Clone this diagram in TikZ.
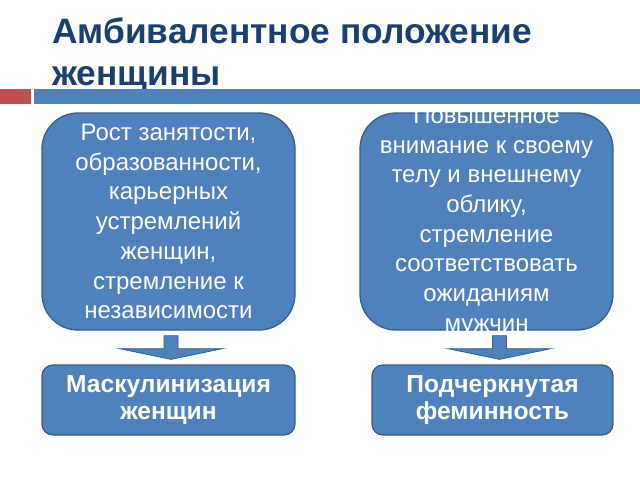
\documentclass[tikz,border=0pt]{standalone}
\usepackage{fontspec}
\setmainfont{Liberation Sans}
\usetikzlibrary{calc}
\definecolor{titleblue}{HTML}{1B4070}
\definecolor{boxfill}{HTML}{4F81BD}
\definecolor{boxline}{HTML}{385D8A}
\definecolor{barred}{HTML}{C0504D}
\tikzset{
  bigbox/.style={draw=boxline, line width=1.3pt, fill=boxfill, rounded corners=36pt,
    minimum width=253pt, minimum height=217pt, inner sep=0pt},
  bigtext/.style={inner sep=0pt, align=center,
    text=white, font=\fontsize{24}{29.7}\selectfont},
  resbox/.style={draw=boxline, line width=1.3pt, fill=boxfill, rounded corners=11pt,
    minimum height=70pt, inner sep=0pt, align=center,
    text=white, font=\bfseries\fontsize{24.6}{27}\selectfont},
  blockarrow/.style={draw=boxline, line width=0.8pt, fill=boxfill},
}
\begin{document}
\begin{tikzpicture}[x=1pt,y=-1pt]
\useasboundingbox (0,0) rectangle (640,480);
% title
\node[anchor=base west, inner sep=0pt, text=titleblue, align=left,
  font=\bfseries\fontsize{35.3}{42}\selectfont] (title) at (52,85)
  {Амбивалентное положение\\женщины};
% bars
\fill[barred] (0,89) rectangle (31,104);
\fill[boxfill] (34,89) rectangle (640,104);
% boxes
\node[bigbox] (t1) at (168.5,221.5) {};
\node[bigtext] (t1text) at (t1.center) {Рост занятости,\\образованности,\\карьерных\\устремлений\\женщин,\\стремление к\\независимости};
\node[bigbox] (t2) at (486.5,221.5) {};
\node[bigtext] (t2text) at (t2.center) {Повышенное\\внимание к своему\\телу и внешнему\\облику,\\стремление\\соответствовать\\ожиданиям\\мужчин};
\node[resbox, minimum width=253pt] (b1) at (168.5,400) {Маскулинизация\\женщин};
\node[resbox, minimum width=241pt] (b2) at (492.5,400) {Подчеркнутая\\феминность};
% arrows
\foreach \t/\b/\dx in {t1/b1/2.5, t2/b2/13} {
  \coordinate (s) at ($(\t.south)+(\dx,0)$);
  \coordinate (e) at ($(\b.north)+(0,0)$);
  \draw[blockarrow]
    ($(s)+(-7,5)$) -- ($(s)+(7,5)$) -- ($(s)+(7,18)$) -- ($(s)+(51.5,18)$)
    -- ($(s |- e)+(0,-5)$) -- ($(s)+(-51.5,18)$) -- ($(s)+(-7,18)$) -- cycle;
}
\end{tikzpicture}
\end{document}
